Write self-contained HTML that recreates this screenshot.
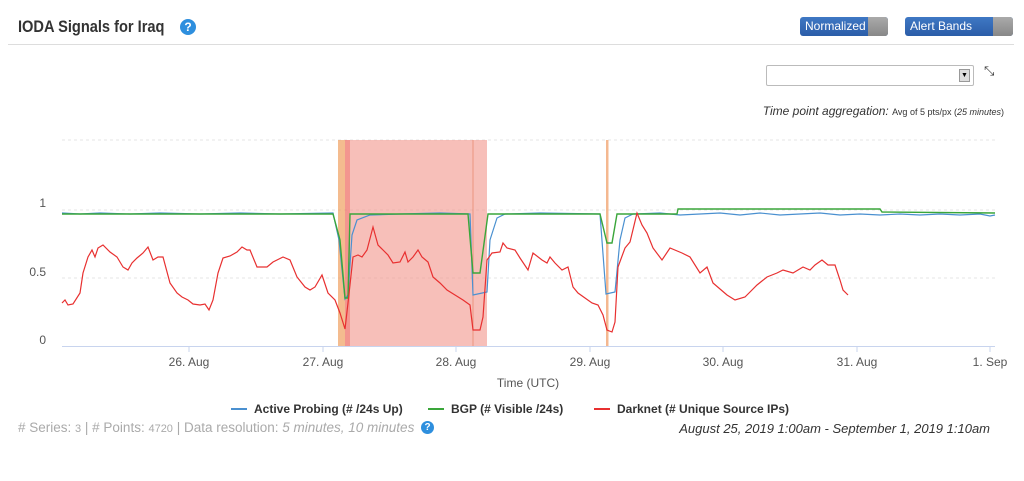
<!DOCTYPE html>
<html><head><style>
body{margin:0;width:1024px;height:481px;background:#fff;font-family:"Liberation Sans",sans-serif;overflow:hidden;position:relative}
.t{position:absolute;white-space:nowrap}
.btn{position:absolute;height:19px;border-radius:3px;background:linear-gradient(#3f78c4,#2b5da8);color:#fff;font-size:12px;line-height:19px;padding-left:5px;box-sizing:border-box;overflow:hidden}
.btn i{position:absolute;right:0;top:0;width:20px;height:19px;background:linear-gradient(#aaa,#888)}
</style></head><body>
<div class="t" style="left:18px;top:17px;font-size:17px;font-weight:bold;color:#333;transform:scaleX(0.86);transform-origin:0 0">IODA Signals for Iraq</div>
<div class="t" style="left:180px;top:19px;width:16px;height:16px;border-radius:50%;background:#2e8fde;color:#fff;font-size:12px;font-weight:bold;text-align:center;line-height:16px">?</div>
<div class="btn" style="left:800px;top:17px;width:88px">Normalized<i></i></div>
<div class="btn" style="left:905px;top:17px;width:108px">Alert Bands<i></i></div>
<div style="position:absolute;left:8px;top:44px;width:1006px;height:1px;background:#ddd"></div>
<div style="position:absolute;left:766px;top:65px;width:208px;height:21px;border:1px solid #bbb;box-sizing:border-box;border-radius:2px"></div>
<div style="position:absolute;left:959px;top:69px;width:11px;height:13px;background:#ddd;border:1px solid #999;box-sizing:border-box;font-size:7px;text-align:center;line-height:11px">▼</div>
<div class="t" style="left:984px;top:63px;font-size:13px;color:#333">⤡</div>
<div class="t" style="right:20px;top:104px;font-size:12px;font-style:italic;color:#333">Time point aggregation: <span style="font-size:9px;font-style:normal">Avg of 5 pts/px (<i>25 minutes</i>)</span></div>
<svg style="position:absolute;left:0;top:0" width="1024" height="481">
<g stroke="#e6e6e6" stroke-dasharray="3,3"><line x1="62" x2="995" y1="140" y2="140"/><line x1="62" x2="995" y1="210" y2="210"/><line x1="62" x2="995" y1="278" y2="278"/></g>
<rect x="350" y="140" width="137" height="206" fill="#f08a80" opacity="0.55"/>
<rect x="338" y="140" width="7" height="206" fill="#f0a060" opacity="0.7"/>
<rect x="345" y="140" width="5" height="206" fill="#ee6a60" opacity="0.7"/>
<line x1="473" x2="473" y1="140" y2="346" stroke="#e88a70" stroke-width="0.8"/>
<rect x="606" y="140" width="2.5" height="206" fill="#f4b890"/>
<line x1="62" x2="995" y1="346.5" y2="346.5" stroke="#c8d4ee"/>
<g stroke="#c8d4ee"><line x1="189" x2="189" y1="346" y2="352"/><line x1="323" x2="323" y1="346" y2="352"/><line x1="456" x2="456" y1="346" y2="352"/><line x1="590" x2="590" y1="346" y2="352"/><line x1="723" x2="723" y1="346" y2="352"/><line x1="857" x2="857" y1="346" y2="352"/><line x1="990" x2="990" y1="346" y2="352"/></g>
<g font-size="12" fill="#555" text-anchor="end"><text x="46" y="207">1</text><text x="46" y="276">0.5</text><text x="46" y="344">0</text></g>
<g font-size="12" fill="#555" text-anchor="middle"><text x="189" y="366">26. Aug</text><text x="323" y="366">27. Aug</text><text x="456" y="366">28. Aug</text><text x="590" y="366">29. Aug</text><text x="723" y="366">30. Aug</text><text x="857" y="366">31. Aug</text><text x="990" y="366">1. Sep</text><text x="528" y="387">Time (UTC)</text></g>
<polyline fill="none" stroke="#4a90d0" stroke-width="1.2" points="62,213 80,214 100,213 130,214 160,213 200,214 240,213 280,214 333,213 339,240 345,299 348,295 352,235 357,220 370,215 400,214 440,213 470,214 473,295 487,292 490,240 497,218 505,214 540,213 600,214 606,294 615,292 620,240 625,218 633,214 660,213 680,215 700,214 720,213 740,215 760,213 780,215 800,214 820,213 840,215 860,214 880,215 900,214 920,215 940,214 960,215 980,214 990,216 995,215"/>
<polyline fill="none" stroke="#3aa63a" stroke-width="1.4" points="62,214 333,214 340,240 345,298 348,298 350,214 468,214 473,273 480,273 488,214 600,214 607,243 612,243 617,214 677,214 678,209 880,209 882,212 995,213"/>
<polyline fill="none" stroke="#e83030" stroke-width="1.2" points="62,303 65,300 68,305 73,304 80,293 83,273 88,257 92,250 95,257 98,248 103,245 110,252 117,257 123,267 128,270 132,263 137,258 143,253 148,247 153,260 158,257 163,257 170,283 177,293 182,297 188,300 193,304 200,305 205,304 209,310 213,300 218,273 223,258 230,256 237,252 242,247 247,250 250,250 257,267 267,267 273,262 283,257 290,260 297,277 305,287 310,290 315,287 322,275 328,293 335,300 340,313 345,329 348,303 353,257 358,255 362,257 367,250 373,227 378,245 383,250 388,255 393,263 400,262 405,252 408,262 413,257 418,250 422,257 428,262 433,277 440,283 447,290 455,295 463,300 470,305 473,330 480,330 483,317 487,260 492,253 500,252 503,243 507,248 515,250 520,258 528,270 533,253 542,260 547,263 550,257 555,263 562,270 568,267 573,287 578,293 585,298 592,303 598,305 603,315 607,330 612,332 615,322 618,267 625,248 630,242 637,213 642,225 647,233 653,248 662,260 670,248 682,253 690,257 700,273 707,267 713,283 727,295 735,300 745,297 750,292 757,285 767,277 777,273 783,270 793,273 803,267 810,270 815,265 822,260 828,265 835,265 840,280 843,290 848,295"/>
<g font-size="12" fill="#333" font-weight="bold"><line x1="231" x2="247" y1="409" y2="409" stroke="#4a90d0" stroke-width="2"/><text x="254" y="413">Active Probing (# /24s Up)</text>
<line x1="428" x2="444" y1="409" y2="409" stroke="#3aa63a" stroke-width="2"/><text x="451" y="413">BGP (# Visible /24s)</text>
<line x1="594" x2="610" y1="409" y2="409" stroke="#e83030" stroke-width="2"/><text x="617" y="413">Darknet (# Unique Source IPs)</text></g>
</svg>
<div class="t" style="left:18px;top:420px;font-size:13.5px;color:#aaa"># Series: <span style="font-size:11px">3</span> | # Points: <span style="font-size:11px">4720</span> | Data resolution: <i>5 minutes, 10 minutes</i></div>
<div class="t" style="left:421px;top:421px;width:13px;height:13px;border-radius:50%;background:#2e8fde;color:#fff;font-size:10px;font-weight:bold;text-align:center;line-height:13px">?</div>
<div class="t" style="right:34px;top:421px;font-size:13px;font-style:italic;color:#333">August 25, 2019 1:00am - September 1, 2019 1:10am</div>
</body></html>
